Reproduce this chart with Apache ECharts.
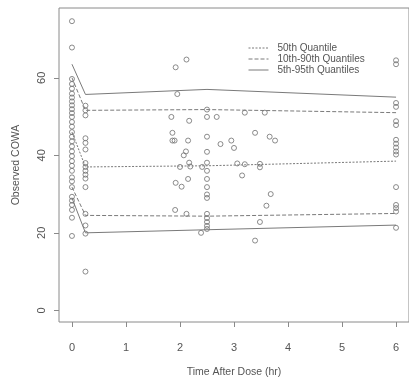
<!DOCTYPE html>
<html>
<head>
<meta charset="utf-8">
<script src="https://cdn.jsdelivr.net/npm/echarts@6/dist/echarts.min.js"></script>
<style>
html,body{margin:0;padding:0;background:#fff;}
#chart{width:409px;height:383px;}
</style>
</head>
<body>
<div id="chart"></div>
<script>
// Observed data grouped by nominal time
var obsTime0 = 0;
var obsVal0 = [74.6, 67.8, 59.7, 58.4, 57.2, 55.9, 54.9, 53.9, 52.9, 51.9, 50.9, 49.9, 48.6, 47.4, 46, 44.8, 43.6, 42.3, 41, 39.8, 38.5, 37.3, 36, 34.3, 33.3, 31.8, 29.3, 28.3, 27.2, 25.9, 23.9, 19.2];
var obsTime025 = 0.25;
var obsVal025 = [52.8, 51.6, 50.3, 44.4, 43.2, 41.5, 38, 37, 36, 35, 34, 31.8, 24.9, 21.9, 19.8, 10];
var obsTime6 = 6;
var obsVal6 = [64.5, 63.5, 53.5, 52.5, 48.8, 47.8, 44, 43, 42, 41, 40.2, 31.8, 27.2, 26.4, 25.5, 21.3];
var obsMidTime = [1.92, 2.12, 1.95, 2.5, 1.84, 2.17, 2.5, 2.68, 3.2, 3.57, 1.86, 1.86, 1.9, 2.15, 2.5, 2.75, 2.95, 3.0, 3.39, 3.66, 3.76, 2.11, 2.07, 2.5, 2.17, 2.19, 2.0, 2.41, 2.5, 2.5, 3.06, 3.2, 3.48, 3.48, 3.15, 2.15, 1.92, 2.03, 2.5, 2.5, 2.5, 2.5, 3.68, 3.6, 1.91, 2.12, 2.5, 2.5, 2.5, 2.5, 2.5, 2.39, 3.48, 3.39];
var obsMidVal = [62.7, 64.7, 55.8, 51.8, 49.9, 48.9, 49.9, 49.9, 51, 51, 45.8, 43.8, 43.8, 43.8, 44.8, 42.9, 43.8, 41.9, 45.8, 44.8, 43.8, 41, 40, 40.9, 38.1, 37.1, 37, 37, 38.1, 36, 37.9, 37.7, 37.8, 36.9, 34.8, 33.9, 32.9, 31.9, 33.9, 31.8, 29.9, 29, 30, 27, 25.9, 24.9, 24.9, 23.8, 22.8, 21.8, 21, 20, 22.8, 18];

// Quantile lines
var qTime = [0, 0.25, 2.5, 6];
var q50 = [46, 37, 37.3, 38.5];
var q10 = [31.8, 24.5, 24.3, 25];
var q90 = [60, 51.6, 51.8, 51];
var q05 = [29, 20, 20.8, 22];
var q95 = [63.5, 55.7, 57, 55];

var xTicks = [0, 1, 2, 3, 4, 5, 6];
var yTicks = [0, 20, 40, 60];

var names = ['50th Quantile', '10th-90th Quantiles', '5th-95th Quantiles'];

function pairs(t, v) { return v.map(function (y, i) { return [Array.isArray(t) ? t[i] : t, y]; }); }
var obs = [].concat(pairs(obsTime0, obsVal0), pairs(obsTime025, obsVal025), pairs(obsMidTime, obsMidVal), pairs(obsTime6, obsVal6));

var grey = '#7a7a7a';
var txt = '#555';
function qLine(name, vals, dash) {
  return {
    type: 'line', name: name, data: pairs(qTime, vals), symbol: 'none',
    lineStyle: { color: grey, width: 1, type: dash }, itemStyle: { color: grey },
    silent: true, z: 3
  };
}

var chart = echarts.init(document.getElementById('chart'), null, { renderer: 'canvas' });
chart.setOption({
  animation: false,
  backgroundColor: '#fff',
  textStyle: { fontFamily: 'Liberation Sans, Arial, sans-serif' },
  grid: { left: 59, top: 8, width: 359, height: 322, show: true, borderColor: '#8a8a8a', borderWidth: 1, containLabel: false },
  legend: {
    data: names, orient: 'vertical', left: 248, top: 43, padding: 0,
    itemWidth: 20, itemHeight: 12, itemGap: 1,
    itemStyle: { opacity: 0 },
    lineStyle: { width: 1 },
    textStyle: { fontSize: 10, color: txt, padding: [0, 0, 0, 4], fontFamily: 'Liberation Sans, Arial, sans-serif' },
    selectedMode: false
  },
  xAxis: {
    type: 'value', min: -0.24, max: 6.24,
    name: 'Time After Dose (hr)', nameLocation: 'middle', nameGap: 45,
    nameTextStyle: { fontSize: 10.5, color: txt },
    axisLine: { show: false, onZero: false },
    axisTick: { show: true, length: 5, inside: false, customValues: xTicks, lineStyle: { color: '#8a8a8a' } },
    axisLabel: { customValues: xTicks, fontSize: 11, color: txt, margin: 20 },
    splitLine: { show: false }
  },
  yAxis: {
    type: 'value', min: -3, max: 78,
    name: 'Observed COWA', nameLocation: 'middle', nameGap: 37, nameRotate: 90,
    nameTextStyle: { fontSize: 10.5, color: txt },
    axisLine: { show: false, onZero: false },
    axisTick: { show: true, length: 5, inside: false, customValues: yTicks, lineStyle: { color: '#8a8a8a' } },
    axisLabel: { customValues: yTicks, fontSize: 11, color: txt, margin: 12, rotate: 90 },
    splitLine: { show: false }
  },
  series: [
    {
      type: 'scatter', name: 'Observed', data: obs, symbol: 'circle', symbolSize: 5,
      itemStyle: { color: 'rgba(0,0,0,0)', borderColor: '#6f6f6f', borderWidth: 1 }, z: 2
    },
    qLine(names[0], q50, [2, 1.5]),
    qLine(names[1], q10, [4, 2]),
    qLine(names[1], q90, [4, 2]),
    qLine(names[2], q05, 'solid'),
    qLine(names[2], q95, 'solid')
  ]
});
</script>
</body>
</html>
